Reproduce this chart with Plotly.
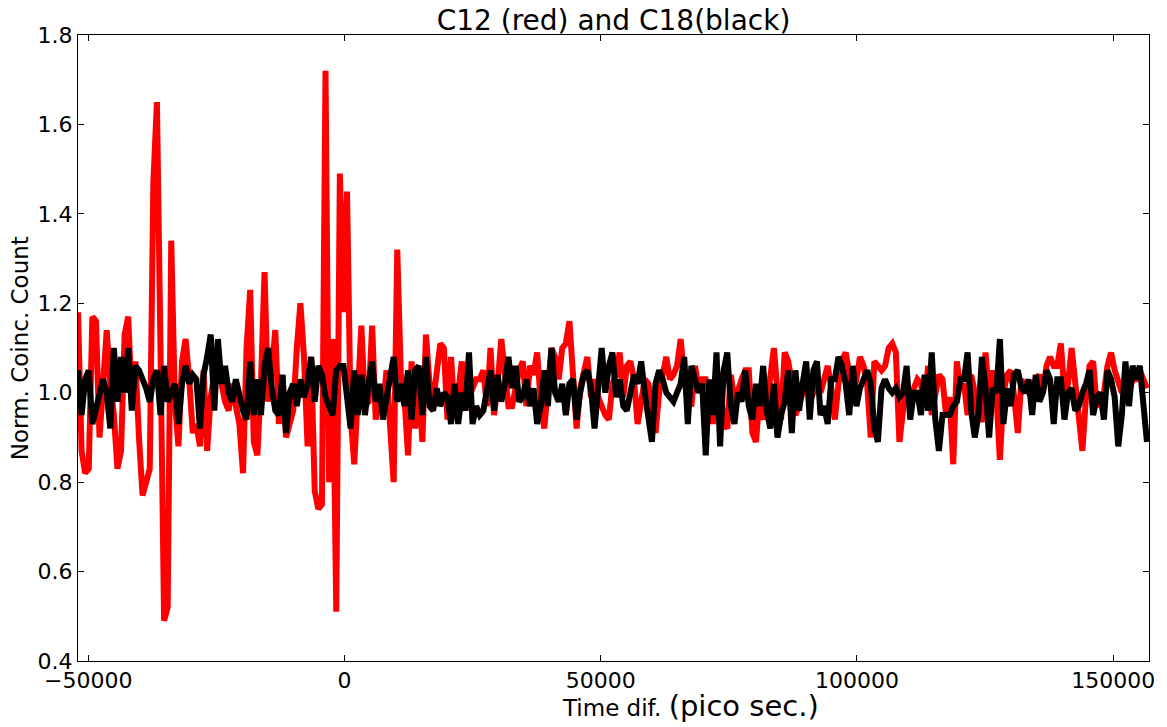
import plotly.graph_objects as go

# x grid: time difference in ps
t_start, t_step, n_pts = -52000, 700, 299
time_ps = [t_start + t_step * i for i in range(n_pts)]

c12_red = [
    1.18, 0.87, 0.82, 0.83, 1.17, 1.16, 0.90, 1.05, 1.14, 1.02, 0.95, 0.83, 0.87, 1.13, 1.17, 0.98, 1.07, 0.90, 0.77, 0.80, 0.83,
    1.47, 1.65, 1.10, 0.49, 0.52, 1.34, 0.98,
    0.88, 1.07, 1.12, 1.03, 0.91, 0.93, 0.88, 1.05, 0.87, 0.99, 1.04, 1.09, 1.02, 0.98, 0.96, 1.02, 0.97, 0.93, 0.82, 1.10,
    1.23, 0.89, 0.86, 1.02, 1.27, 0.98, 1.05, 1.14,
    0.93, 1.04, 0.90, 0.93, 0.96, 1.10, 1.20, 1.08, 0.88, 1.08, 0.78, 0.74, 0.75, 1.72, 0.80, 1.12, 0.51, 1.49, 1.18, 1.45,
    0.95, 0.84, 1.00, 1.15, 0.97, 0.98,
    1.15, 0.94, 1.00, 0.96, 1.05, 0.93, 0.80, 1.32, 1.04, 0.99, 0.86, 1.07, 0.92, 1.03, 0.89, 1.13, 1.02, 0.98, 1.04, 1.11,
    1.10, 0.94, 1.08, 0.95, 1.00, 1.07, 0.96, 1.02,
    1.01, 1.03, 1.03, 1.05, 0.97, 1.10, 0.95, 1.02, 1.12, 1.04, 0.97, 0.97, 1.02, 1.05, 1.07, 0.97, 1.06, 1.04, 1.09, 0.98, 0.92, 1.03,
    1.10, 1.08, 1.03, 1.10, 1.11, 1.16, 1.02, 0.92, 1.01, 1.04, 1.08, 0.99, 1.03, 0.99, 0.97, 0.95, 0.94, 1.02, 1.04, 1.09, 0.99, 1.06,
    1.07, 1.03, 0.93, 0.98, 1.03, 1.02, 0.98, 0.91, 1.00, 1.04, 1.08, 1.03, 1.04, 1.06, 1.12, 1.03, 0.98, 0.97, 1.06, 1.01, 1.03, 1.03,
    1.00, 0.93, 1.05, 1.03, 0.93, 0.92, 1.04, 0.98, 1.01, 1.03, 1.05, 1.05, 0.91, 0.89, 0.99, 0.94, 0.97, 1.03, 1.10, 1.00, 0.94, 1.09,
    1.07, 1.02, 0.95, 0.97, 1.00, 1.03, 1.01, 1.00, 1.02, 1.00, 1.03, 1.06, 1.01, 0.94, 1.02, 1.07, 1.09, 1.04, 1.00, 1.03, 1.08, 1.06,
    1.02, 0.90, 1.07, 1.06, 1.05, 1.06, 1.10, 1.11, 1.09, 0.89, 0.97, 1.03, 0.97, 1.01, 1.03, 1.02, 0.97, 1.06, 0.95, 1.00, 1.04, 1.03,
    0.95, 0.99, 0.84, 1.07, 1.01, 1.02, 0.95, 1.04, 1.00, 0.94, 0.94, 1.09, 0.99, 1.05, 1.00, 0.85, 1.00,
    1.04, 1.05, 0.99, 0.91, 1.03, 1.01, 1.00, 1.01, 1.03, 1.04, 1.00, 1.06, 1.08, 1.06, 1.06, 1.11, 1.00, 1.02, 1.10, 1.03,
    0.95, 0.87, 0.99, 1.06, 1.07, 0.97, 0.98, 1.00, 1.06, 1.09, 1.05, 1.02, 1.00, 1.04, 1.00, 1.03, 1.03, 1.05, 1.03, 1.01,
]

c18_black = [
    1.05, 0.95, 1.03, 1.05, 0.93, 0.96, 1.00, 1.03, 1.00, 0.92, 1.10, 0.98, 1.08, 1.00, 1.10, 0.96, 1.06, 1.05, 1.03, 1.01, 0.98,
    1.03, 1.05, 0.95, 1.06, 0.98, 1.00, 1.02,
    0.93, 1.02, 1.06, 1.02, 1.04, 1.03, 0.92, 1.04, 1.08, 1.13, 0.96, 1.12, 1.02, 1.06, 1.00, 0.98, 1.03, 0.99, 0.96, 0.94,
    1.07, 0.95, 1.03, 0.95, 1.06, 1.10, 1.01, 0.96,
    0.95, 1.04, 0.91, 1.00, 1.02, 0.97, 1.03, 0.99, 1.02, 1.08, 0.98, 1.06, 1.04, 0.99, 0.97, 0.95, 1.05, 1.06, 1.06, 1.00,
    0.92, 1.05, 0.95, 1.04, 0.95, 1.02,
    1.07, 0.98, 1.02, 0.94, 0.99, 1.05, 1.08, 0.98, 1.02, 0.97, 1.05, 0.94, 1.05, 1.06, 0.95, 1.08, 0.97, 0.96, 1.01, 0.97,
    1.00, 0.99, 0.93, 1.02, 0.93, 1.00, 0.96, 1.09,
    0.93, 0.97, 0.95, 0.96, 1.00, 1.05, 0.96, 1.04, 0.98, 1.02, 1.08, 1.01, 1.06, 0.98, 0.99, 1.03, 0.97, 1.01, 0.93, 0.97, 1.05, 0.97,
    1.10, 1.00, 0.98, 1.02, 0.95, 1.02, 1.03, 0.94, 1.00, 1.04, 1.05, 1.01, 0.92, 1.03, 1.10, 1.00, 1.06, 1.09, 0.99, 1.03, 0.97, 0.96,
    1.00, 1.04, 1.02, 1.07, 1.00, 0.95, 0.89, 1.02, 1.05, 1.03, 1.00, 0.99, 0.98, 1.00, 1.02, 1.08, 0.93, 1.06, 1.03, 1.00, 1.02, 0.86,
    1.03, 0.95, 1.09, 0.88, 1.05, 1.09, 0.97, 0.93, 1.00, 0.98, 1.05, 0.97, 0.94, 1.02, 0.97, 1.06, 0.96, 0.92, 1.02, 0.90, 0.95, 0.98,
    1.05, 0.91, 1.05, 0.96, 1.02, 1.07, 0.94, 1.05, 1.07, 0.95, 0.97, 0.93, 1.03, 1.03, 1.08, 1.06, 1.02, 0.95, 1.06, 0.97, 1.01, 1.03,
    1.05, 1.02, 0.92, 0.89, 1.01, 1.03, 1.01, 1.00, 1.01, 0.99, 1.00, 1.06, 0.94, 1.00, 1.00, 0.95, 1.04, 0.96, 1.09, 0.94, 0.87, 0.95,
    0.95, 0.95, 0.97, 0.98, 1.03, 1.03, 1.09, 0.96, 0.90, 0.95, 1.08, 1.01, 0.90, 1.01, 1.00, 1.12, 0.93,
    1.01, 0.97, 1.04, 1.05, 1.01, 1.00, 1.03, 0.95, 1.04, 0.98, 1.00, 1.05, 1.03, 0.93, 1.03, 1.03, 0.94, 1.00, 1.01, 0.96,
    0.97, 1.00, 1.02, 1.05, 0.95, 0.99, 1.00, 0.94, 1.05, 1.03, 0.99, 0.88, 0.95, 1.07, 0.97, 1.06, 1.03, 1.06, 0.97, 0.89,
]

x_ticks = [-50000, 0, 50000, 100000, 150000]
y_ticks = [0.4, 0.6, 0.8, 1.0, 1.2, 1.4, 1.6, 1.8]

FONT = "DejaVu Sans"

fig = go.Figure()
fig.add_trace(go.Scatter(x=time_ps, y=c12_red, mode="lines",
                         line=dict(color="#ff0000", width=6), name="C12"))
fig.add_trace(go.Scatter(x=time_ps, y=c18_black, mode="lines",
                         line=dict(color="#000000", width=6), name="C18"))

axis_common = dict(showgrid=False, zeroline=False, showline=True, linecolor="black",
                   linewidth=1, mirror="ticks", ticks="inside", ticklen=6,
                   tickcolor="black", tickfont=dict(family=FONT, size=22, color="black"))

fig.update_xaxes(range=[-52000, 157000], tickvals=x_ticks,
                 ticktext=[f"{v:d}".replace("-", "\u2212") for v in x_ticks], **axis_common)
fig.update_yaxes(range=[0.4, 1.8], tickvals=y_ticks,
                 ticktext=[f"{v:.1f}" for v in y_ticks], **axis_common)

fig.update_layout(
    width=1167, height=727,
    margin=dict(l=78, r=14, t=35, b=66),
    paper_bgcolor="white", plot_bgcolor="white",
    showlegend=False,
    font=dict(family=FONT, color="black"),
    title=dict(text="C12 (red) and C18(black)", x=0.5, xref="paper",
               y=1 - 20 / 727, yref="container", yanchor="middle",
               font=dict(family=FONT, size=28, color="black")),
    annotations=[
        dict(text="Norm. Coinc. Count", xref="paper", yref="paper",
             x=-0.054, y=0.5, textangle=-90, showarrow=False,
             xanchor="center", yanchor="middle",
             font=dict(family=FONT, size=23, color="black")),
        dict(text="Time dif. <span style='font-size:29px'>(pico sec.)</span>",
             xref="paper", yref="paper", x=0.572, y=-0.072, showarrow=False,
             xanchor="center", yanchor="middle",
             font=dict(family=FONT, size=23, color="black")),
    ],
)

fig.write_html("out.html")
